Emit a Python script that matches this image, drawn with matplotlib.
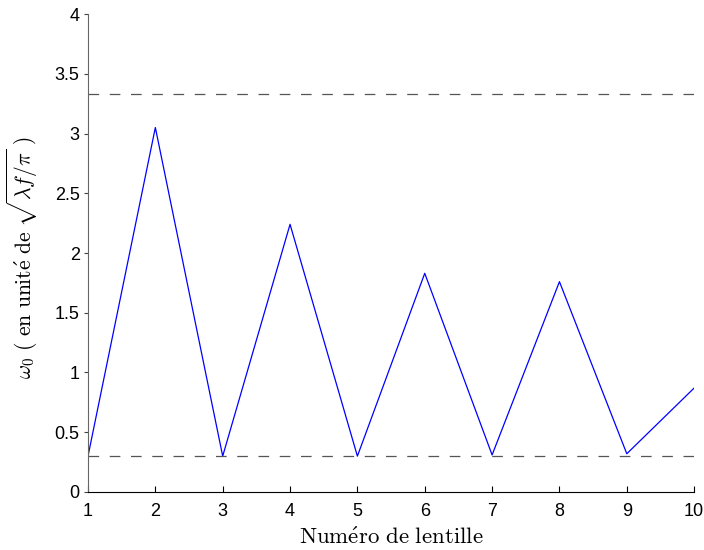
import numpy as np
import matplotlib.pyplot as plt

plt.rcParams['mathtext.fontset'] = 'cm'
plt.rcParams['font.family'] = ['Liberation Sans', 'DejaVu Sans']

lentille = [1, 2, 3, 4, 5, 6, 7, 8, 9, 10]
w0 = [0.30, 3.05, 0.30, 2.24, 0.30, 1.83, 0.31, 1.76, 0.32, 0.87]
w_min = 0.30
w_max = 3.33

fig = plt.figure(figsize=(7.04, 5.5), dpi=100)
ax = fig.add_axes([0.125, 0.1055, 0.861, 0.869])

ax.plot(lentille, w0, color='blue', lw=0.9)
ax.axhline(w_min, color='#555555', ls=(0, (8.5, 8.5)), lw=0.9)
ax.axhline(w_max, color='#555555', ls=(0, (8.5, 8.5)), lw=0.9)

ax.set_xlim(1, 10)
ax.set_ylim(0, 4)
ax.set_xticks(range(1, 11))
ax.set_yticks(np.arange(0, 4.01, 0.5))
ax.set_yticklabels(['0', '0.5', '1', '1.5', '2', '2.5', '3', '3.5', '4'])
ax.tick_params(axis='x', direction='in', labelsize=13, length=4, width=0.8, pad=8)
ax.tick_params(axis='y', direction='out', labelsize=13, length=3, width=0.8, pad=3,
               color='#444444')

for s in ['top', 'right']:
    ax.spines[s].set_visible(False)
ax.spines['left'].set_color('#666666')
ax.spines['bottom'].set_color('black')

ax.set_xlabel(r'$\mathrm{Num\acute{e}ro\ de\ lentille}$', fontsize=16.5, labelpad=4)
ax.set_ylabel(r'$\omega_0\ \mathrm{(\ en\ unit\acute{e}\ de}\ \sqrt{\lambda f/\pi}\ \mathrm{)}$',
              fontsize=15.5)
ax.yaxis.set_label_coords(-0.08, 0.49)

fig.savefig('out.png', dpi=100)
